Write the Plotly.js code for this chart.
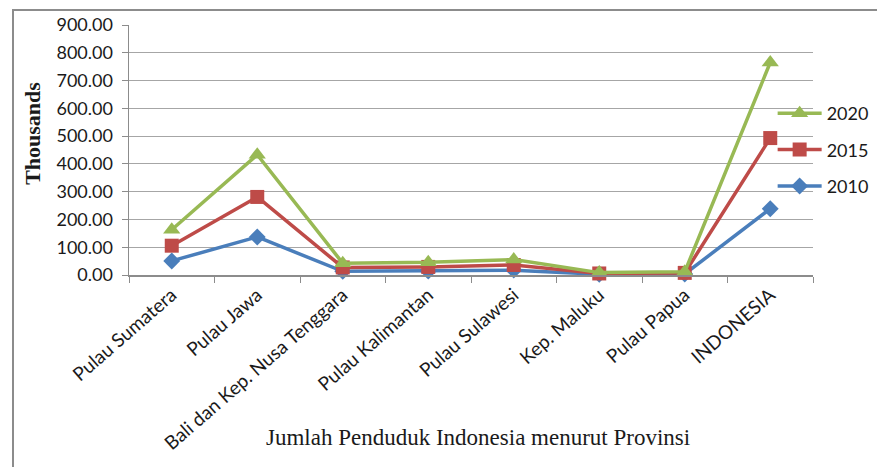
<!DOCTYPE html>
<html><head><meta charset="utf-8">
<script src="https://cdn.plot.ly/plotly-3.0.1.min.js"></script>
<style>
html,body{margin:0;padding:0;background:#fff;overflow:hidden;}
#frame{position:absolute;left:12px;top:9px;width:900px;height:500px;border:2px solid #8c8c8c;box-sizing:border-box;}
#chart{position:absolute;left:0;top:0;width:877px;height:467px;}
</style></head>
<body>
<div id="frame"></div>
<div id="chart"></div>
<script>
const categories = ["Pulau Sumatera","Pulau Jawa","Bali dan Kep. Nusa Tenggara","Pulau Kalimantan","Pulau Sulawesi","Kep. Maluku","Pulau Papua","INDONESIA"];
const values2010 = [50.6, 137.0, 13.1, 13.8, 17.4, 2.6, 3.6, 238.5];
const values2015 = [105.5, 281.0, 27.3, 29.1, 36.1, 5.5, 7.6, 493.0];
const values2020 = [163.0, 433.0, 42.5, 45.5, 55.5, 8.6, 11.5, 765.0];
const seriesNames = ["2010","2015","2020"];
const yTicks = [0,100,200,300,400,500,600,700,800,900];
const yTickLabels = ["0.00","100.00","200.00","300.00","400.00","500.00","600.00","700.00","800.00","900.00"];
const xTitle = "Jumlah Penduduk Indonesia menurut Provinsi";
const yTitle = "Thousands";

const colors = ["#4a7ebb","#be4b48","#98b954"];
const symbols = ["diamond","square","triangle-up"];
const sizes = [13,14,15];
const data = [values2010, values2015, values2020].map((v,i)=>({
  type:"scatter", mode:"lines+markers", x:categories, y:v, name:seriesNames[i],
  legendgroup:"g"+i, legendrank: 3 - i,
  line:{color:colors[i], width:3.5},
  marker:{symbol:symbols[i], size:sizes[i], color:colors[i]},
  cliponaxis:false
}));

const serif = "'Liberation Serif', 'DejaVu Serif', serif";
const layout = {
  width:877, height:467,
  margin:{l:129, r:64, t:25, b:192, autoexpand:false},
  paper_bgcolor:"rgba(0,0,0,0)", plot_bgcolor:"rgba(0,0,0,0)",
  font:{family:"Lato, 'Liberation Sans', sans-serif", color:"#1a1a1a"},
  showlegend:true,
  legend:{x:0.941, xanchor:"left", y:0.72, yanchor:"top", traceorder:"grouped",
    itemwidth:44, tracegroupgap:10, bgcolor:"rgba(0,0,0,0)", font:{size:18, family:"Lato, sans-serif", color:"#1a1a1a"}},
  xaxis:{type:"category", tickson:"boundaries", ticks:"outside", ticklen:6, tickcolor:"#8c8c8c",
    showline:true, linecolor:"#8c8c8c", linewidth:1.5, showgrid:false, tickangle:-41,
    tickfont:{size:19, family:"Lato, sans-serif", color:"#1a1a1a"},
    range:[-0.5,7.5], automargin:false},
  yaxis:{range:[0,900], tickvals:yTicks, ticktext:yTickLabels, ticks:"outside", ticklen:6, tickcolor:"#8c8c8c",
    showline:true, linecolor:"#8c8c8c", linewidth:1.5, showgrid:true, gridcolor:"#a6a6a6", gridwidth:1.2,
    zeroline:false, ticklabelstandoff:5, automargin:false, tickfont:{size:18, family:"Lato, sans-serif", color:"#1a1a1a"}},
  annotations:[
    {text:xTitle, xref:"paper", yref:"paper", x:0.51, y:-0.648, xanchor:"center", yanchor:"middle",
     showarrow:false, font:{family:serif, size:23, color:"#1a1a1a"}},
    {text:"<b>"+yTitle+"</b>", xref:"paper", yref:"paper", x:-0.142, y:0.568, xanchor:"center", yanchor:"middle",
     textangle:-90, showarrow:false, font:{family:serif, size:22, color:"#1a1a1a"}}
  ]
};
Plotly.newPlot("chart", data, layout, {displayModeBar:false, staticPlot:true});
</script>
</body></html>
